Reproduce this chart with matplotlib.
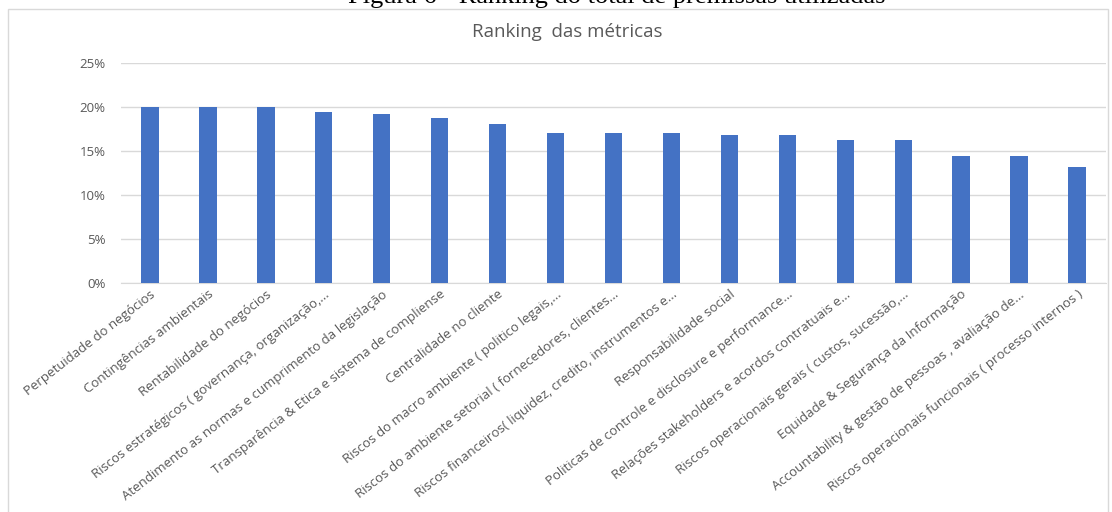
import matplotlib.pyplot as plt
from matplotlib.patches import Rectangle
from matplotlib.ticker import FuncFormatter

categorias = [
    "Perpetuidade do negócios",
    "Contingências ambientais",
    "Rentabilidade do negócios",
    "Riscos estratégicos ( governança, organização,...",
    "Atendimento as normas e cumprimento da legislação",
    "Transparência & Etica e sistema de compliense",
    "Centralidade no cliente",
    "Riscos do macro ambiente ( politico legais,...",
    "Riscos do ambiente setorial ( fornecedores, clientes...",
    "Riscos financeiros( liquidez, credito, instrumentos e...",
    "Responsabilidade social",
    "Politicas de controle e disclosure e performance...",
    "Relações stakeholders e acordos contratuais e...",
    "Riscos operacionais gerais ( custos, sucessão,...",
    "Equidade & Segurança da Informação",
    "Accountability & gestão de pessoas , avaliação de...",
    "Riscos operacionais funcionais ( processo internos )",
]
valores = [0.200, 0.200, 0.200, 0.194, 0.192, 0.1875, 0.181, 0.170, 0.170,
           0.170, 0.168, 0.168, 0.163, 0.162, 0.144, 0.144, 0.1315]
ticks_y = [0, 0.05, 0.10, 0.15, 0.20, 0.25]

fig = plt.figure(figsize=(11.12, 5.12), dpi=100, facecolor="white")

# moldura do gráfico
fig.patches.append(Rectangle((8 / 1112, -0.01), 1100 / 1112, 1 - 9 / 512 + 0.01,
                             transform=fig.transFigure, fill=False,
                             edgecolor="#d9d9d9", linewidth=1))

# legenda da figura, cortada no topo da imagem
fig.text(0.555, 1 - 3 / 512, "Figura 6 - Ranking do total de premissas utilizadas",
         ha="center", va="baseline", fontsize=19, family="Liberation Serif", color="black")
fig.text(0.51, 1 - 32 / 512, "Ranking  das métricas", ha="center", va="center",
         fontsize=13.5, family="Open Sans", color="#595959")

ax = fig.add_axes([121 / 1112, 1 - 283 / 512, 985 / 1112, 220 / 512])
x = range(len(categorias))
ax.bar(x, valores, width=0.30, color="#4472c4", zorder=3)
ax.set_xlim(-0.5, len(categorias) - 0.5)
ax.set_ylim(0, 0.25)
ax.set_yticks(ticks_y)
ax.yaxis.set_major_formatter(FuncFormatter(lambda v, p: f"{v*100:.0f}%"))
ax.grid(axis="y", color="#d9d9d9", linewidth=1, zorder=0)
for s in ["top", "right", "left"]:
    ax.spines[s].set_visible(False)
ax.spines["bottom"].set_color("#d9d9d9")
ax.tick_params(axis="both", length=0, colors="#595959", labelsize=9.5)
ax.tick_params(axis="y", pad=11)
ax.set_xticks(list(x))
ax.set_xticklabels(categorias, rotation=38, ha="right", va="top",
                   rotation_mode="anchor", family="Open Sans", fontsize=9.5, color="#595959")
for lab in ax.get_yticklabels():
    lab.set_family("Open Sans")

fig.savefig("out.png", dpi=100)
